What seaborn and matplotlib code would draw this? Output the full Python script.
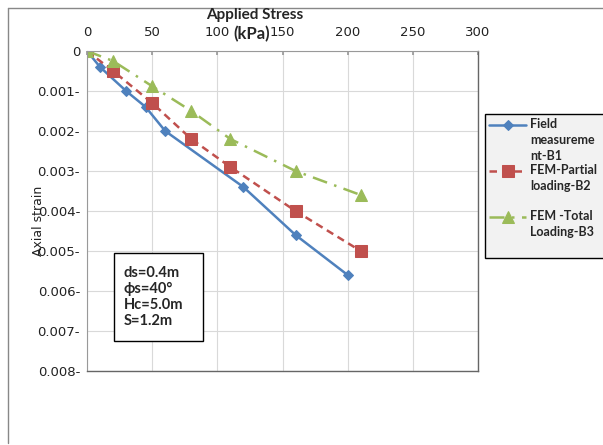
import matplotlib
matplotlib.use("Agg")
import matplotlib.pyplot as plt
from matplotlib.lines import Line2D
from matplotlib.patches import Rectangle
from matplotlib.legend_handler import HandlerLine2D
import seaborn as sns

# ---- data ----
field_x = [0, 10, 30, 45, 60, 120, 160, 200]
field_y = [0, 0.0004, 0.001, 0.0014, 0.002, 0.0034, 0.0046, 0.0056]
partial_x = [0, 20, 50, 80, 110, 160, 210]
partial_y = [0, 0.0005, 0.0013, 0.0022, 0.0029, 0.004, 0.005]
total_x = [0, 20, 50, 80, 110, 160, 210]
total_y = [0, 0.00025, 0.00088, 0.0015, 0.0022, 0.003, 0.0036]
labels = ["Field\nmeasureme\nnt-B1", "FEM-Partial\nloading-B2\n\u00a0", "FEM -Total\nLoading-B3\n\u00a0"]
x_ticks = [0, 50, 100, 150, 200, 250, 300]
y_ticks = [0, 0.001, 0.002, 0.003, 0.004, 0.005, 0.006, 0.007, 0.008]
y_ticklabels = ["0", "0.001-", "0.002-", "0.003-", "0.004-", "0.005-", "0.006-", "0.007-", "0.008-"]
note = "ds=0.4m\nϕs=40°\nHc=5.0m\nS=1.2m"

sns.set_theme(style="white")
plt.rcParams['font.family'] = ['DejaVu Sans']

fig = plt.figure(figsize=(6.03, 4.45), dpi=100)
ax = fig.add_axes([87/603, 1-371/445, (478-87)/603, (371-51)/445])

blue, red, green = "#4F81BD", "#C0504D", "#9BBB59"
sns.lineplot(x=field_x, y=field_y, ax=ax, color=blue, marker="D", markersize=5,
             linewidth=1.8, markeredgecolor=blue, label=labels[0])
sns.lineplot(x=partial_x, y=partial_y, ax=ax, color=red, marker="s", markersize=8,
             linewidth=1.8, linestyle=(0, (3, 2)), markeredgecolor=red, label=labels[1])
sns.lineplot(x=total_x, y=total_y, ax=ax, color=green, marker="^", markersize=8,
             linewidth=1.8, linestyle=(0, (6, 3, 1, 3)), markeredgecolor=green, label=labels[2])

ax.set_xlim(0, 300)
ax.set_ylim(0.008, 0)
ax.set_xticks(x_ticks)
ax.set_yticks(y_ticks)
ax.set_yticklabels(y_ticklabels)
ax.xaxis.tick_top()
ax.tick_params(axis="x", top=True, bottom=False, labeltop=True, labelbottom=False,
               length=3, direction="in", color="#999999", labelsize=9.5, pad=9, labelcolor="#222222")
ax.tick_params(axis="y", length=0, labelsize=9.5, pad=5, labelcolor="#222222")
ax.grid(True, color="#D9D9D9", linewidth=0.8)
ax.set_axisbelow(True)
for s in ["left", "top"]:
    ax.spines[s].set_color("#999999")
    ax.spines[s].set_linewidth(0.8)
for s in ["right", "bottom"]:
    ax.spines[s].set_color("#666666")
    ax.spines[s].set_linewidth(1.0)
ax.set_xlabel("")
ax.set_ylabel("")

fig.text(255/603, 1-15/445, "Applied Stress", ha="center", va="center",
         fontsize=11, fontweight="bold", family=["Lato", "DejaVu Sans"])
fig.text(252/603, 1-34/445, "(kPa)", ha="center", va="center",
         fontsize=12, fontweight="bold", family=["Lato", "DejaVu Sans"])
fig.text(38/603, 1-221/445, "Axial strain", ha="center", va="center", rotation=90,
         fontsize=9, color="#222222")

# legend: handles aligned with the first line of each label
LEG_FS = 9
LEG_LS = 1.41


def lift(legend_handle, orig_handle):
    me = legend_handle.get_markevery()
    legend_handle.update_from(orig_handle)
    legend_handle.set_markevery(me)
    n = orig_handle.get_label().count("\n") + 1
    dy = (n - 1) * 0.5 * 0.877 * LEG_FS * LEG_LS
    legend_handle.set_ydata([y + dy for y in legend_handle.get_ydata()])


hmap = {h: HandlerLine2D(update_func=lift) for h in ax.get_lines()}
leg = ax.legend(loc="upper left", bbox_to_anchor=(485/603, 0.3, 0.25, 1-114/445-0.3),
                bbox_transform=fig.transFigure, mode="expand", frameon=True, fancybox=False,
                edgecolor="black", facecolor="#F2F2F2", framealpha=1, handlelength=3.0,
                handletextpad=0.3, borderpad=0.3, labelspacing=0.15, borderaxespad=0,
                handler_map=hmap,
                prop={"family": "Lato", "weight": "bold", "size": LEG_FS})
leg.get_frame().set_linewidth(1.0)
for t in leg.get_texts():
    t.set_linespacing(LEG_LS)

# annotation box
fig.add_artist(Rectangle((114/603, 1-341/445), (203-114)/603, (341-253)/445,
                         transform=fig.transFigure, fill=True, facecolor="white",
                         edgecolor="black", linewidth=1.0, zorder=5))
fig.text(124/603, 1-297/445, note, ha="left", va="center", fontsize=10.5,
         fontweight="bold", linespacing=1.2, family=["Lato", "DejaVu Sans"], zorder=6)

# outer chart frame
fig.add_artist(Line2D([8/603, 8/603], [1-443/445, 1-8/445], transform=fig.transFigure,
                      color="#888888", linewidth=1.0))
fig.add_artist(Line2D([8/603, 1.0], [1-8/445, 1-8/445], transform=fig.transFigure,
                      color="#888888", linewidth=1.0))

fig.savefig("out.png", dpi=100)
